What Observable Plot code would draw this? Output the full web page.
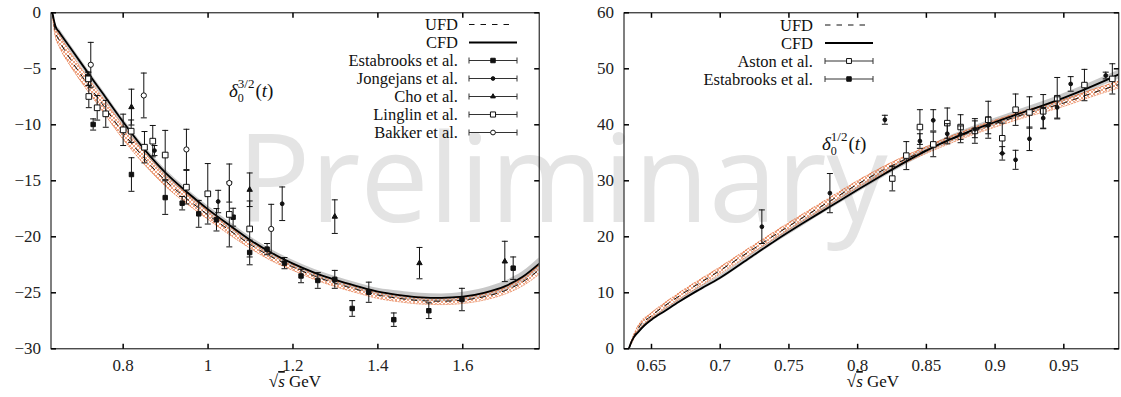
<!DOCTYPE html>
<html><head><meta charset="utf-8">
<script src="https://cdn.jsdelivr.net/npm/d3@7"></script>
<script src="https://cdn.jsdelivr.net/npm/@observablehq/plot@0.6"></script>
<style>
body{margin:0;background:#fff;}
#fig{position:relative;width:1121px;height:397px;overflow:hidden;font-family:"Liberation Serif","Times New Roman",serif;}
#fig > svg{position:absolute;top:0;}
#fig svg text{font-family:"Liberation Serif","Times New Roman",serif;}
#fig svg text.wm{font-family:"Open Sans",sans-serif;}
</style></head><body><div id="fig"></div>
<script>
// ---------- LEFT PANEL: delta_0^{3/2} ----------
const cfdLx = [0.633,0.6345,0.636,0.638,0.641,0.65,0.675,0.70,0.75,0.80,0.85,0.90,0.95,1.0,1.05,1.1,1.15,1.2,1.25,1.3,1.35,1.4,1.45,1.5,1.55,1.6,1.65,1.7,1.74,1.78];
const cfdLy = [0,-0.2,-0.5,-0.85,-1.25,-1.75,-3.1,-4.45,-7.1,-9.75,-12.2,-14.3,-16.0,-17.55,-18.95,-20.3,-21.45,-22.4,-23.2,-23.85,-24.4,-24.9,-25.2,-25.4,-25.45,-25.35,-25.0,-24.4,-23.6,-22.4];
const cfdLe = [0,0.1,0.15,0.2,0.25,0.3,0.3,0.3,0.3,0.3,0.3,0.3,0.3,0.3,0.3,0.3,0.3,0.3,0.3,0.3,0.3,0.3,0.35,0.35,0.35,0.4,0.4,0.45,0.45,0.5];
const ufdLx = [0.633,0.636,0.64,0.65,0.675,0.70,0.75,0.80,0.85,0.90,0.95,1.0,1.05,1.1,1.15,1.2,1.25,1.3,1.35,1.4,1.45,1.5,1.55,1.6,1.65,1.7,1.74,1.78];
const ufdLy = [0,-0.8,-1.6,-2.5,-4.1,-5.5,-8.1,-10.7,-13.0,-15.0,-16.6,-18.05,-19.4,-20.7,-21.8,-22.7,-23.5,-24.15,-24.7,-25.2,-25.5,-25.7,-25.75,-25.65,-25.35,-24.8,-24.05,-22.95];
const ufdLe = [0,0.3,0.45,0.55,0.6,0.6,0.6,0.6,0.55,0.5,0.45,0.4,0.4,0.35,0.35,0.3,0.3,0.3,0.3,0.3,0.3,0.3,0.3,0.3,0.3,0.3,0.35,0.4];

const estLx = [0.7166,0.7293,0.8195,0.899,0.939,0.978,1.0198,1.059,1.098,1.139,1.18,1.219,1.2585,1.2985,1.3395,1.3786,1.4375,1.52,1.598,1.7187];
const estLy = [-5.69,-9.97,-14.44,-16.5,-17.0,-17.95,-18.48,-18.25,-21.4,-21.1,-22.35,-23.5,-23.9,-23.8,-26.4,-24.95,-27.4,-26.6,-25.6,-22.8];
const estLe = [0.4,0.5,1.5,1.5,0.6,1.2,1.0,0.8,1.1,0.5,0.5,0.6,0.7,0.8,0.7,0.9,0.6,0.7,1.0,1.0];
const jongX = [0.8737,1.0238,1.1746];
const jongY = [-12.3,-16.85,-17.05];
const jongE = [0.45,1.0,1.5];
const choX = [0.8195,1.098,1.2985,1.498,1.699];
const choY = [-8.42,-15.8,-18.2,-22.35,-22.2];
const choE = [1.6,1.5,1.5,1.4,1.8];
const lingX = [0.7183,0.7191,0.7388,0.759,0.80,0.8188,0.8502,0.8697,0.899,0.949,0.9993,1.05,1.098];
const lingY = [-5.9,-7.47,-8.48,-9.02,-10.45,-10.57,-12.0,-11.46,-12.7,-15.57,-16.16,-18.0,-19.3];
const lingE = [0.6,1.0,1.1,1.2,1.4,1.0,1.4,1.4,2.2,1.5,2.7,2.9,2.5];
const bakX = [0.7237,0.8486,0.949,1.05,1.1487];
const bakY = [-4.64,-7.38,-12.2,-15.2,-19.3];
const bakE = [2.0,2.0,1.8,1.7,2.2];

const xTicksL = [0.8,1.0,1.2,1.4,1.6];
const yTicksL = [-30,-25,-20,-15,-10,-5,0];
const legendL = ["UFD","CFD","Estabrooks et al.","Jongejans et al.","Cho et al.","Linglin et al.","Bakker et al."];

// ---------- RIGHT PANEL: delta_0^{1/2} ----------
const cfdRx = [0.6335,0.635,0.637,0.64,0.645,0.65,0.66,0.67,0.68,0.69,0.70,0.72,0.74,0.76,0.78,0.80,0.82,0.84,0.86,0.88,0.90,0.92,0.94,0.96,0.98,0.99];
const cfdRy = [0,1.0,2.0,2.9,4.2,5.2,6.8,8.4,9.9,11.3,12.7,16.0,19.3,22.4,25.4,28.4,31.3,34.1,36.6,38.7,40.5,42.2,43.9,45.8,47.9,49.0];
const cfdRe = [0,0.1,0.2,0.3,0.3,0.35,0.35,0.35,0.4,0.4,0.4,0.45,0.45,0.5,0.5,0.55,0.55,0.6,0.6,0.65,0.65,0.7,0.7,0.75,0.75,0.8];
const ufdRx = [0.6335,0.636,0.638,0.641,0.65,0.67,0.70,0.72,0.75,0.78,0.80,0.82,0.85,0.88,0.90,0.92,0.95,0.97,0.99];
const ufdRy = [0,1.5,2.6,3.9,5.9,9.4,14.0,17.2,21.9,26.4,29.4,32.1,35.5,38.5,40.2,41.8,43.9,45.6,47.2];
const ufdRe = [0,0.3,0.4,0.5,0.5,0.55,0.6,0.6,0.6,0.6,0.6,0.6,0.6,0.6,0.6,0.6,0.6,0.6,0.6];

const astonX = [0.8252,0.8354,0.8453,0.855,0.8652,0.8749,0.8853,0.895,0.9052,0.9149,0.925,0.935,0.9452,0.965,0.9853];
const astonY = [30.4,34.5,39.6,36.5,40.3,39.6,38.9,40.9,37.6,42.7,42.2,42.4,44.75,47.1,48.2];
const astonE = [2.2,2.5,3.1,2.2,2.7,2.2,2.2,3.3,2.7,2.8,2.8,3.0,3.7,2.8,2.7];
const estRx = [0.7303,0.7798,0.8198,0.8453,0.855,0.8652,0.8749,0.8853,0.895,0.9052,0.9149,0.925,0.935,0.9452,0.955,0.9805];
const estRy = [21.8,27.8,40.9,37.1,40.8,38.4,38.3,39.2,39.9,34.9,33.75,37.5,41.2,43.1,47.3,48.8];
const estRe = [3.0,3.5,0.8,1.3,1.9,1.8,1.5,1.5,1.5,1.2,1.7,2.1,1.9,1.9,1.3,0.6];

const xTicksR = [0.65,0.7,0.75,0.8,0.85,0.9,0.95];
const yTicksR = [0,10,20,30,40,50,60];
const legendR = ["UFD","CFD","Aston et al.","Estabrooks et al."];

// ---------- helpers ----------
const zip = (xs, ys, es) => xs.map((x, i) => ({x, y: ys[i], e: es ? es[i] : 0}));
const fmt = d => d < 0 ? "\u2212" + (-d) : String(d);
const ORANGE = "#e46a34";
const FONT = "Liberation Serif";
const DASH = "5.5,6";

const rOf = s => Math.sqrt(s / Math.PI);
const capSym = {draw(c, s){const r = rOf(s); c.moveTo(-r, 0); c.lineTo(r, 0);}};
const tUp = {draw(c, s){const r = rOf(s); c.moveTo(0, 0); c.lineTo(0, -r);}};
const tDown = {draw(c, s){const r = rOf(s); c.moveTo(0, 0); c.lineTo(0, r);}};
const tRight = {draw(c, s){const r = rOf(s); c.moveTo(0, 0); c.lineTo(r, 0);}};
const tLeft = {draw(c, s){const r = rOf(s); c.moveTo(0, 0); c.lineTo(-r, 0);}};

function errMarks(data, sym, r, fill) {
  return [
    Plot.ruleX(data, {x: "x", y1: d => d.y - d.e, y2: d => d.y + d.e, stroke: "#111", strokeWidth: 1}),
    Plot.dot(data, {x: "x", y: d => d.y + d.e, symbol: capSym, r: 3, fill: "none", stroke: "#111", strokeWidth: 1}),
    Plot.dot(data, {x: "x", y: d => d.y - d.e, symbol: capSym, r: 3, fill: "none", stroke: "#111", strokeWidth: 1}),
    Plot.dot(data, {x: "x", y: "y", symbol: sym, r, fill, stroke: "#111", strokeWidth: 1})
  ];
}
function curveMarks(cfd, ufd) {
  return [
    Plot.areaY(cfd, {x: "x", y1: d => d.y - d.e, y2: d => d.y + d.e, fill: "#9a9a9a", fillOpacity: 0.55, curve: "monotone-x", clip: true}),
    Plot.areaY(ufd, {x: "x", y1: d => d.y - d.e, y2: d => d.y + d.e, fill: "url(#hatch)", curve: "monotone-x", clip: true}),
    Plot.line(ufd, {x: "x", y: d => d.y - d.e, stroke: ORANGE, strokeWidth: 0.7, strokeDasharray: "1.5,1.5", curve: "monotone-x", clip: true}),
    Plot.line(ufd, {x: "x", y: d => d.y + d.e, stroke: ORANGE, strokeWidth: 0.7, strokeDasharray: "1.5,1.5", curve: "monotone-x", clip: true}),
    Plot.line(ufd, {x: "x", y: "y", stroke: "#111", strokeWidth: 1, strokeDasharray: DASH, curve: "monotone-x", clip: true}),
    Plot.line(cfd, {x: "x", y: "y", stroke: "#000", strokeWidth: 1.8, curve: "monotone-x", clip: true})
  ];
}
function frameMarks(xt, yt, xd, yd) {
  return [
    Plot.frame({stroke: "#000", strokeWidth: 1}),
    Plot.dot(xt, {x: d => d, y: () => yd[0], symbol: tUp, r: 5, fill: "none", stroke: "#000"}),
    Plot.dot(xt, {x: d => d, y: () => yd[1], symbol: tDown, r: 5, fill: "none", stroke: "#000"}),
    Plot.dot(yt, {y: d => d, x: () => xd[0], symbol: tRight, r: 5, fill: "none", stroke: "#000"}),
    Plot.dot(yt, {y: d => d, x: () => xd[1], symbol: tLeft, r: 5, fill: "none", stroke: "#000"}),
    Plot.axisX({ticks: xt, tickSize: 0, tickPadding: 10, tickFormat: fmt, fontSize: 17, fontFamily: FONT, fill: "#222", label: null}),
    Plot.axisY({ticks: yt, tickSize: 0, tickPadding: 10, tickFormat: fmt, fontSize: 17, fontFamily: FONT, fill: "#222", label: null})
  ];
}

// ---------- container, watermark, pattern ----------
const fig = document.getElementById("fig");
const bg = d3.select(fig).append("svg").attr("width", 1121).attr("height", 397).style("left", "0px");
const pat = bg.append("defs").append("pattern").attr("id", "hatch").attr("width", 4).attr("height", 4).attr("patternUnits", "userSpaceOnUse");
pat.append("path").attr("d", "M0,0L4,4M4,0L0,4").attr("stroke", ORANGE).attr("stroke-width", 0.6).attr("fill", "none");
bg.append("text").attr("class", "wm").attr("x", 237).attr("y", 222).attr("font-size", 122)
  .attr("fill", "#e4e4e4").text("Preliminary");

const xdL = [0.63, 1.78], ydL = [-30, 0];
const left = Plot.plot({
  width: 560, height: 397, marginLeft: 50.5, marginRight: 21.3, marginTop: 12.3, marginBottom: 48.7,
  x: {domain: xdL}, y: {domain: ydL},
  style: {background: "transparent", overflow: "visible", color: "#111"},
  marks: [
    ...curveMarks(zip(cfdLx, cfdLy, cfdLe), zip(ufdLx, ufdLy, ufdLe)),
    ...errMarks(zip(estLx, estLy, estLe), "square", 2.5, "#111"),
    ...errMarks(zip(jongX, jongY, jongE), "circle", 1.9, "#111"),
    ...errMarks(zip(choX, choY, choE), "triangle", 2.0, "#111"),
    ...errMarks(zip(lingX, lingY, lingE), "square", 3.2, "white"),
    ...errMarks(zip(bakX, bakY, bakE), "circle", 2.6, "white"),
    ...frameMarks(xTicksL, yTicksL, xdL, ydL)
  ]
});
left.style.left = "0px";
fig.appendChild(left);

const xdR = [0.63, 0.99], ydR = [0, 60];
const right = Plot.plot({
  width: 561, height: 397, marginLeft: 63.5, marginRight: 2.7, marginTop: 12.3, marginBottom: 48.7,
  x: {domain: xdR}, y: {domain: ydR},
  style: {background: "transparent", overflow: "visible", color: "#111"},
  marks: [
    ...curveMarks(zip(cfdRx, cfdRy, cfdRe), zip(ufdRx, ufdRy, ufdRe)),
    ...errMarks(zip(astonX, astonY, astonE), "square", 3.1, "white"),
    ...errMarks(zip(estRx, estRy, estRe), "circle", 1.9, "#111"),
    ...frameMarks(xTicksR, yTicksR, xdR, ydR)
  ]
});
right.style.left = "560px";
fig.appendChild(right);

// ---------- legends, labels ----------
const markerDefs = {
  "Estabrooks et al.": {t: d3.symbolSquare, s: 20, f: "#111"},
  "Jongejans et al.": {t: d3.symbolCircle, s: 11, f: "#111"},
  "Cho et al.": {t: d3.symbolTriangle, s: 10, f: "#111"},
  "Linglin et al.": {t: d3.symbolSquare, s: 26, f: "white"},
  "Bakker et al.": {t: d3.symbolCircle, s: 18, f: "white"},
  "Aston et al.": {t: d3.symbolSquare, s: 24, f: "white"}
};
function legend(svg, labels, tx, x1, x2, y0, dy) {
  const g = d3.select(svg).append("g").attr("font-size", 16.5).attr("fill", "#111");
  labels.forEach((lab, i) => {
    const y = y0 + i * dy;
    g.append("text").attr("x", tx).attr("y", y + 5.5).attr("text-anchor", "end").text(lab);
    if (lab === "UFD") {
      g.append("line").attr("x1", x1).attr("x2", x2 - 6).attr("y1", y).attr("y2", y).attr("stroke", "#111").attr("stroke-dasharray", DASH);
    } else if (lab === "CFD") {
      g.append("line").attr("x1", x1).attr("x2", x2).attr("y1", y).attr("y2", y).attr("stroke", "#000").attr("stroke-width", 2);
    } else {
      const m = markerDefs[lab];
      g.append("line").attr("x1", x1).attr("x2", x2).attr("y1", y).attr("y2", y).attr("stroke", "#333");
      g.append("line").attr("x1", x1).attr("x2", x1).attr("y1", y - 3).attr("y2", y + 3).attr("stroke", "#333");
      g.append("line").attr("x1", x2).attr("x2", x2).attr("y1", y - 3).attr("y2", y + 3).attr("stroke", "#333");
      g.append("path").attr("d", d3.symbol(m.t, m.s)()).attr("transform", `translate(${(x1 + x2) / 2},${y})`)
        .attr("fill", m.f).attr("stroke", "#111");
    }
  });
}
legend(left, legendL, 458, 469, 517, 24.5, 18);
legend(right, legendR, 253, 265, 313, 25, 18);

function deltaLabel(svg, x, y, sup) {
  const t = d3.select(svg).append("text").attr("x", x).attr("y", y).attr("text-anchor", "start")
    .attr("font-size", 19).attr("fill", "#111");
  t.append("tspan").attr("font-style", "italic").text("δ");
  t.append("tspan").attr("dy", 5).attr("font-size", 12).text("0");
  t.append("tspan").attr("dx", -6).attr("dy", -14).attr("font-size", 13).text(sup);
  t.append("tspan").attr("dx", 1).attr("dy", 9).text("(");
  t.append("tspan").attr("font-style", "italic").text("t");
  t.append("tspan").text(")");
}
deltaLabel(left, 229, 97, "3/2");
deltaLabel(right, 262, 150, "1/2");

function xLabel(svg, cx) {
  const t = d3.select(svg).append("text").attr("x", cx).attr("y", 387).attr("text-anchor", "middle")
    .attr("font-size", 17).attr("fill", "#111");
  t.append("tspan").text("√");
  t.append("tspan").attr("font-style", "italic").attr("text-decoration", "overline").text("s");
  t.append("tspan").text(" GeV");
}
xLabel(left, 295);
xLabel(right, 313);
</script></body></html>
